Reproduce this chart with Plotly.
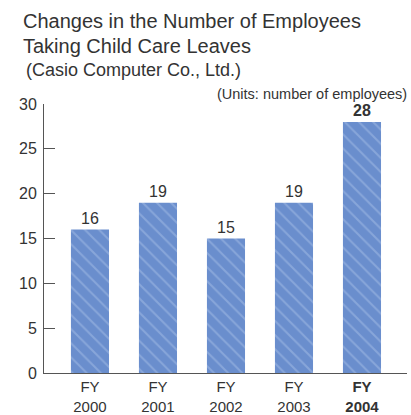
import plotly.graph_objects as go

categories = ["FY<br>2000", "FY<br>2001", "FY<br>2002", "FY<br>2003", "<b>FY<br>2004</b>"]
values = [16, 19, 15, 19, 28]
value_labels = ["16", "19", "15", "19", "<b>28</b>"]
y_ticks = [0, 5, 10, 15, 20, 25, 30]

W, H = 411, 415
L, R, T, B = 44, 4, 104, 42
pw, ph = W - L - R, H - T - B

def px(x):
    return (x - L) / pw

def py(y):
    return (H - B - y) / ph

FONT = "Liberation Sans"
TXT = "#333333"

fig = go.Figure()
fig.add_trace(go.Bar(
    x=list(range(len(values))),
    y=values,
    width=0.56,
    text=value_labels,
    textposition="outside",
    cliponaxis=False,
    textfont=dict(family=FONT, size=16, color=TXT),
    marker=dict(
        color="#6a8ecd",
        line=dict(width=0),
        pattern=dict(shape="\\", fgcolor="#a6bde6", bgcolor="#6a8ecd", size=10, solidity=0.2),
    ),
    hoverinfo="skip",
))

annotations = [
    dict(text="Changes in the Number of Employees", x=px(21), y=py(8),
         xref="paper", yref="paper", xanchor="left", yanchor="top", showarrow=False,
         font=dict(family=FONT, size=20, color=TXT)),
    dict(text="Taking Child Care Leaves", x=px(21), y=py(33),
         xref="paper", yref="paper", xanchor="left", yanchor="top", showarrow=False,
         font=dict(family=FONT, size=20, color=TXT)),
    dict(text="(Casio Computer Co., Ltd.)", x=px(24), y=py(58),
         xref="paper", yref="paper", xanchor="left", yanchor="top", showarrow=False,
         font=dict(family=FONT, size=18, color=TXT)),
    dict(text="(Units: number of employees)", x=px(409), y=py(84),
         xref="paper", yref="paper", xanchor="right", yanchor="top", showarrow=False,
         font=dict(family=FONT, size=14.5, color=TXT)),
]

fig.update_layout(
    width=W, height=H,
    margin=dict(l=L, r=R, t=T, b=B),
    paper_bgcolor="white", plot_bgcolor="white",
    showlegend=False,
    font=dict(family=FONT, color=TXT),
    xaxis=dict(
        range=[-0.676, 4.662], automargin=False,
        tickmode="array", tickvals=list(range(len(values))), ticktext=categories,
        showgrid=False, zeroline=False,
        showline=True, linecolor="#555555", linewidth=1,
        ticks="", tickfont=dict(family=FONT, size=15, color=TXT),
        ticklabelstandoff=0,
    ),
    yaxis=dict(
        range=[0, 30], automargin=False,
        tickmode="array", tickvals=y_ticks,
        showgrid=False, zeroline=False,
        showline=True, linecolor="#555555", linewidth=1,
        ticks="inside", ticklen=11, tickcolor="#555555", tickwidth=1,
        tickfont=dict(family=FONT, size=16, color=TXT),
        ticklabelstandoff=3,
    ),
    annotations=annotations,
)

fig.write_html("out.html")
